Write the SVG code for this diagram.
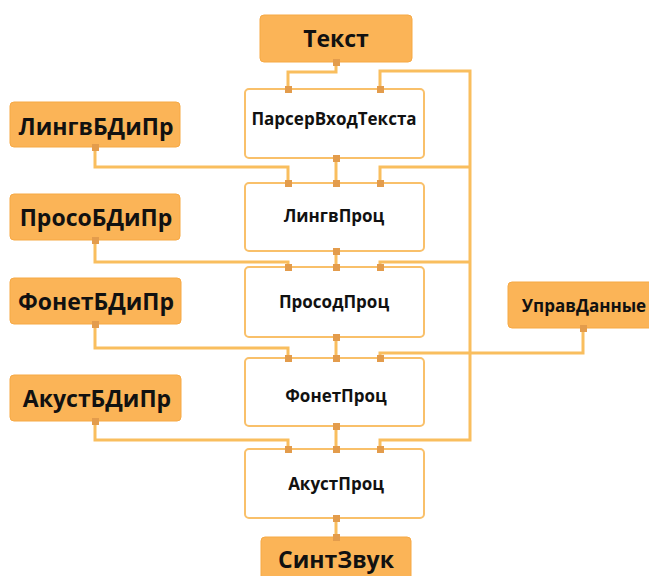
<svg xmlns="http://www.w3.org/2000/svg" width="649" height="576" viewBox="0 0 649 576">
<style>
.io rect{fill:#FBB457;stroke:#F6A945;stroke-width:1}
.pr rect{fill:#fff;stroke:#F9C06A;stroke-width:2}
text{font-family:"Open Sans","Noto Sans","Liberation Sans",sans-serif;font-weight:bold;fill:#111;text-anchor:middle}
.big{font-size:23px}
.sm{font-size:17px}
.c path{fill:none;stroke:#F9BE5E;stroke-width:3}
.p rect{fill:#E39C4C}
</style>
<g class="c" id="connectors">
<path d="M336 62V72H288V89"/>
<path d="M380 89V71H470V440H380V449"/>
<path d="M336 158V183"/>
<path d="M95 147V167H288V183"/>
<path d="M380 183V167H470"/>
<path d="M336 251V267"/>
<path d="M95 240V262H288V267"/>
<path d="M380 267V262H470"/>
<path d="M336 337V358"/>
<path d="M95 324V348H288V358"/>
<path d="M380 358V353H583V328"/>
<path d="M336 426V449"/>
<path d="M95 421V440H288V449"/>
<path d="M336 518V537"/>
</g>
<g id="Tekst" class="io"><rect x="260" y="15" width="152" height="47" rx="4"/><text class="big" x="336" y="47">Текст</text></g>
<g id="Parser" class="pr"><rect x="245" y="89" width="179" height="69" rx="4"/><text class="sm" x="334" y="125">ПарсерВходТекста</text></g>
<g id="LingvProc" class="pr"><rect x="245" y="183" width="179" height="68" rx="4"/><text class="sm" x="334" y="222">ЛингвПроц</text></g>
<g id="ProsodProc" class="pr"><rect x="245" y="267" width="179" height="70" rx="4"/><text class="sm" x="334" y="308">ПросодПроц</text></g>
<g id="FonetProc" class="pr"><rect x="245" y="358" width="179" height="68" rx="4"/><text class="sm" x="336" y="402">ФонетПроц</text></g>
<g id="AkustProc" class="pr"><rect x="245" y="449" width="179" height="69" rx="4"/><text class="sm" x="336" y="490">АкустПроц</text></g>
<g id="SintZvuk" class="io"><rect x="261" y="537" width="150" height="50" rx="4"/><text class="big" x="336" y="568">СинтЗвук</text></g>
<g id="LingvBD" class="io"><rect x="10" y="102" width="170" height="45" rx="4"/><text class="big" x="96" y="135">ЛингвБДиПр</text></g>
<g id="ProsoBD" class="io"><rect x="10" y="194" width="170" height="46" rx="4"/><text class="big" x="96" y="226">ПросоБДиПр</text></g>
<g id="FonetBD" class="io"><rect x="10" y="278" width="171" height="46" rx="4"/><text class="big" x="96" y="310">ФонетБДиПр</text></g>
<g id="AkustBD" class="io"><rect x="10" y="375" width="171" height="46" rx="4"/><text class="big" x="97" y="407">АкустБДиПр</text></g>
<g id="UpravData" class="io"><rect x="508" y="282" width="145" height="46" rx="4"/><text class="sm" x="584" y="312">УправДанные</text></g>
<g class="p" id="ports">
<rect x="333" y="59" width="7" height="7"/>
<rect x="285" y="86" width="7" height="7"/><rect x="377" y="86" width="7" height="7"/><rect x="333" y="155" width="7" height="7"/>
<rect x="285" y="180" width="7" height="7"/><rect x="333" y="180" width="7" height="7"/><rect x="377" y="180" width="7" height="7"/><rect x="333" y="248" width="7" height="7"/>
<rect x="285" y="264" width="7" height="7"/><rect x="333" y="264" width="7" height="7"/><rect x="377" y="264" width="7" height="7"/><rect x="333" y="334" width="7" height="7"/>
<rect x="285" y="355" width="7" height="7"/><rect x="333" y="355" width="7" height="7"/><rect x="377" y="355" width="7" height="7"/><rect x="333" y="423" width="7" height="7"/>
<rect x="285" y="446" width="7" height="7"/><rect x="333" y="446" width="7" height="7"/><rect x="377" y="446" width="7" height="7"/><rect x="333" y="515" width="7" height="7"/>
<rect x="333" y="534" width="7" height="7"/>
<rect x="92" y="144" width="7" height="7"/><rect x="92" y="237" width="7" height="7"/><rect x="92" y="321" width="7" height="7"/><rect x="92" y="418" width="7" height="7"/>
<rect x="580" y="325" width="7" height="7"/>
</g>
</svg>
